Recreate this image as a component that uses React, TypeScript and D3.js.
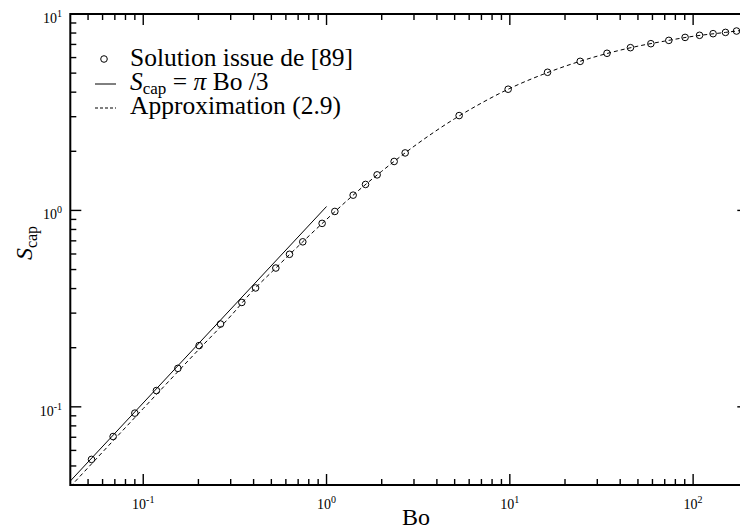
import React from "react";
import * as d3 from "d3";

// Bond number / capillary area samples (circles)
const boSolution = [0.0522, 0.0685, 0.09, 0.118, 0.1545, 0.2018, 0.264, 0.345, 0.41, 0.529, 0.628, 0.742, 0.946, 1.11, 1.397, 1.632, 1.888, 2.338, 2.685, 5.29, 9.79, 16.06, 24.2, 33.9, 45.5, 58.8, 73.7, 90.4, 108.4, 128.5, 150.2, 172.5];
const sSolution = [0.054, 0.0706, 0.0929, 0.121, 0.157, 0.205, 0.264, 0.34, 0.403, 0.509, 0.598, 0.692, 0.859, 0.988, 1.196, 1.356, 1.517, 1.775, 1.962, 3.04, 4.14, 5.05, 5.74, 6.31, 6.74, 7.06, 7.34, 7.6, 7.79, 7.94, 8.06, 8.19];

// Linear law S = pi Bo / 3 (end points)
const boLinear = [0.04, 1];
const sLinear = [0.0419, 1.047];

// Approximation (2.9)
const boApprox = [0.04, 0.1, 0.2, 0.3, 0.4, 0.5, 0.7, 1, 1.5, 2, 3, 5, 7, 10, 15, 20, 30, 50, 70, 100, 150, 200];
const sApprox = [0.0392, 0.098, 0.195, 0.29, 0.394, 0.484, 0.657, 0.9, 1.267, 1.582, 2.12, 2.93, 3.52, 4.18, 4.91, 5.42, 6.1, 6.86, 7.28, 7.7, 8.06, 8.33];

const xMajor = [0.1, 1, 10, 100];
const xMajorExp = ["-1", "0", "1", "2"];
const yMajor = [0.1, 1, 10];
const yMajorExp = ["-1", "0", "1"];

const legendLabels = ["Solution issue de [89]", "Approximation (2.9)"];

const W = 740;
const H = 531;
const left = 70.3;
const right = 748.3;
const top = 14;
const bottom = 485;

const FONT = "'Liberation Serif', 'Times New Roman', serif";

function minorTicks(lo: number, hi: number): number[] {
  const out: number[] = [];
  for (let e = -3; e <= 3; e++) {
    for (let m = 2; m <= 9; m++) {
      const v = m * Math.pow(10, e);
      if (v > lo * 1.0001 && v < hi * 0.9999) out.push(v);
    }
  }
  return out;
}

export default function App() {
  const x = d3.scaleLog().domain([0.04, 200]).range([left, right]);
  const y = d3.scaleLog().domain([0.04, 10]).range([bottom, top]);

  const line = d3
    .line<[number, number]>()
    .x((d) => x(d[0]))
    .y((d) => y(d[1]));
  const curve = d3
    .line<[number, number]>()
    .x((d) => x(d[0]))
    .y((d) => y(d[1]))
    .curve(d3.curveMonotoneX);

  const linearPts = boLinear.map((b, i) => [b, sLinear[i]] as [number, number]);
  const approxPts = boApprox.map((b, i) => [b, sApprox[i]] as [number, number]);

  const xMinor = minorTicks(0.04, 200);
  const yMinor = minorTicks(0.04, 10);

  const majorLen = 11;
  const minorLen = 6;

  return (
    <svg
      width={W}
      height={H}
      style={{ position: "absolute", left: 0, top: 0, background: "#fff" }}
      fontFamily={FONT}
    >
      <defs>
        <clipPath id="plotArea">
          <rect x={left} y={top} width={right - left} height={bottom - top} />
        </clipPath>
      </defs>
      <rect x={0} y={0} width={W} height={H} fill="#fff" />

      {/* ticks on all four sides, pointing inward */}
      <g stroke="#000" strokeWidth={1.4}>
        {xMajor.map((v) => (
          <g key={"xm" + v}>
            <line x1={x(v)} x2={x(v)} y1={bottom} y2={bottom - majorLen} />
            <line x1={x(v)} x2={x(v)} y1={top} y2={top + majorLen} />
          </g>
        ))}
        {xMinor.map((v) => (
          <g key={"xn" + v}>
            <line x1={x(v)} x2={x(v)} y1={bottom} y2={bottom - minorLen} />
            <line x1={x(v)} x2={x(v)} y1={top} y2={top + minorLen} />
          </g>
        ))}
        {yMajor.map((v) => (
          <g key={"ym" + v}>
            <line x1={left} x2={left + majorLen} y1={y(v)} y2={y(v)} />
            <line x1={right} x2={right - majorLen} y1={y(v)} y2={y(v)} />
          </g>
        ))}
        {yMinor.map((v) => (
          <g key={"yn" + v}>
            <line x1={left} x2={left + minorLen} y1={y(v)} y2={y(v)} />
            <line x1={right} x2={right - minorLen} y1={y(v)} y2={y(v)} />
          </g>
        ))}
      </g>

      {/* frame */}
      <rect
        x={left}
        y={top}
        width={right - left}
        height={bottom - top}
        fill="none"
        stroke="#000"
        strokeWidth={2}
      />

      {/* tick labels */}
      <g fontSize={14} fill="#000">
        {xMajor.map((v, i) => (
          <text key={"xl" + v} x={x(v)} y={508.5} textAnchor="middle">
            <tspan>10</tspan>
            <tspan fontSize={10} dy={-6}>
              {xMajorExp[i]}
            </tspan>
          </text>
        ))}
        {yMajor.map((v, i) => (
          <text key={"yl" + v} x={62} y={y(v) + 9} textAnchor="end">
            <tspan>10</tspan>
            <tspan fontSize={10} dy={-6}>
              {yMajorExp[i]}
            </tspan>
          </text>
        ))}
      </g>

      {/* axis titles */}
      <text x={416} y={525} textAnchor="middle" fontSize={24}>
        Bo
      </text>
      <text transform="translate(32,243) rotate(-90)" textAnchor="middle" fontSize={24}>
        <tspan fontStyle="italic">S</tspan>
        <tspan fontSize={16} dy={5}>
          cap
        </tspan>
      </text>

      {/* series */}
      <g clipPath="url(#plotArea)" fill="none" stroke="#000">
        <path d={line(linearPts) ?? ""} strokeWidth={1} />
        <path d={curve(approxPts) ?? ""} strokeWidth={1} strokeDasharray="4,3" />
        {boSolution.map((b, i) => (
          <circle key={"c" + i} cx={x(b)} cy={y(sSolution[i])} r={3.3} strokeWidth={1} />
        ))}
      </g>

      {/* legend */}
      <g fontSize={25.5} fill="#000">
        <circle cx={104} cy={59} r={3.3} fill="none" stroke="#000" strokeWidth={1} />
        <text x={130} y={66}>
          {legendLabels[0]}
        </text>
        <line x1={95} x2={116} y1={84} y2={84} stroke="#000" strokeWidth={1} />
        <text x={130} y={90}>
          <tspan fontStyle="italic">S</tspan>
          <tspan fontSize={17} dy={4}>
            cap
          </tspan>
          <tspan dy={-4}> = </tspan>
          <tspan fontStyle="italic">π</tspan>
          <tspan> Bo /3</tspan>
        </text>
        <line x1={95} x2={116} y1={108} y2={108} stroke="#000" strokeWidth={1} strokeDasharray="3,2" />
        <text x={130} y={114}>
          {legendLabels[1]}
        </text>
      </g>
    </svg>
  );
}
